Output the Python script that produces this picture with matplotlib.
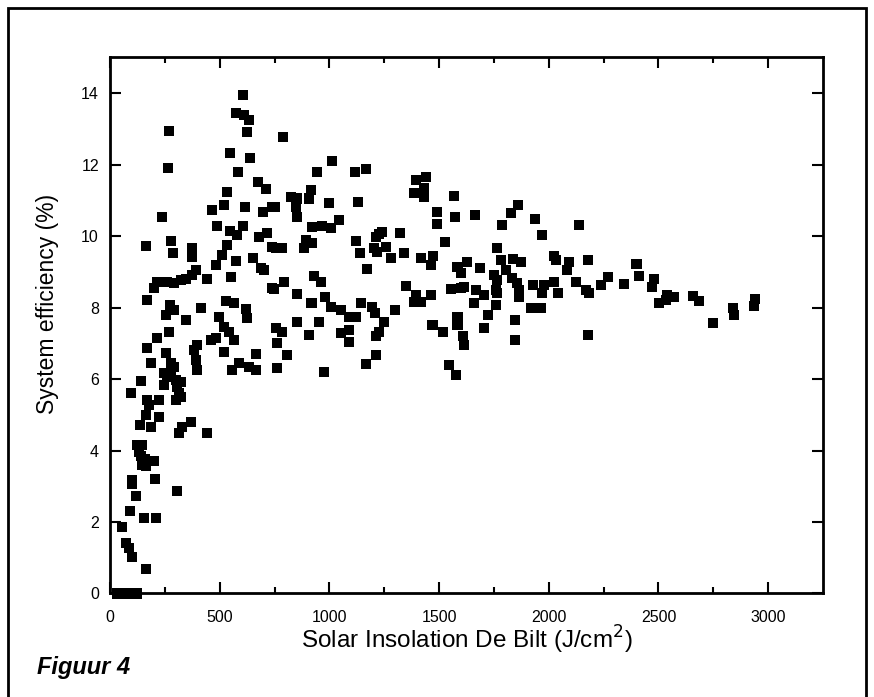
import matplotlib
matplotlib.use("Agg")
import matplotlib.pyplot as plt
from matplotlib.patches import Rectangle

# Solar insolation De Bilt (J/cm2) vs system efficiency (%)
insolation = [
    30, 50, 70, 90, 110, 125,
    56, 72, 87, 102, 163,
    91, 155, 208, 117, 102, 102, 304, 204,
    125, 147, 131, 140, 158, 147, 163, 200,
    444, 315, 330, 368,
    137, 186, 223, 163, 178, 170, 223,
    94, 143,
    246, 261, 277, 292, 300, 307, 315, 300, 322, 246, 322, 277,
    186, 170, 216, 254, 269,
    383, 398, 391, 398,
    459, 482, 520, 558, 588, 634, 664, 664, 565,
    608, 576, 611, 634, 626, 269, 266, 547, 637, 585, 676, 713, 532, 520,
    464, 616, 698, 740, 239, 486, 547, 578, 608, 680, 717, 740, 163, 277,
    289, 375, 375, 535, 512, 573, 482, 653, 687, 702, 391, 375, 345, 322,
    292, 261, 216, 201, 441, 550, 170, 274, 292, 254, 413, 345, 527, 565,
    497, 520, 543, 619, 626, 740,
    790, 1014, 945, 1117, 1169, 1394, 1440, 1432, 1386, 1432, 1569, 824,
    854, 847, 915, 907, 752, 999, 1132, 851, 1492, 1492, 1573, 922, 968,
    1006, 1044, 1227, 1242, 1211, 1321, 1528, 892, 920, 885, 756, 786,
    1123, 1139, 1204, 1219, 1260, 1280, 1341, 1417, 1473, 1465, 1584,
    1599, 1629, 1170, 930, 961, 793, 748, 851, 920, 980, 1006, 1052, 1090,
    1120, 1143, 1196, 1208, 1249, 1227, 1300, 1348, 1394, 1462, 1386,
    1554, 1599, 1584, 1584, 1470, 1516, 854, 953, 915, 756, 786, 907,
    1052, 1090,
    1211, 763, 808, 763, 1090, 976, 1214, 1169, 1607, 1546, 1576, 1417, 1614,
    1862, 1830, 1663, 1786, 1938, 1968, 2139, 1766, 1781, 1838, 1873, 1687,
    2025, 2032, 2093, 2081, 2181, 1751, 1766, 1804, 1834, 1857, 1614, 1667,
    1705, 1759, 1766, 1865, 1865, 1926, 1979, 2025, 1971, 2044, 2124, 2169,
    2184, 2238, 2268, 2341, 1660, 1721, 1759, 1918, 1964, 1705, 1847, 1847,
    2177,
    2400, 2412, 2481, 2470, 2503, 2541, 2572, 2534, 2658, 2686, 2747, 2838,
    2845, 2941, 2937,
]
efficiency = [
    0, 0, 0, 0, 0, 0,
    1.85, 1.40, 1.27, 1.03, 0.68,
    2.31, 2.10, 2.12, 2.74, 3.17, 3.05, 2.88, 3.19,
    4.15, 4.15, 3.95, 3.85, 3.75, 3.60, 3.58, 3.71,
    4.50, 4.48, 4.67, 4.81,
    4.71, 4.67, 4.93, 4.99, 5.27, 5.41, 5.41,
    5.62, 5.95,
    6.16, 6.06, 6.25, 6.34, 5.97, 5.78, 5.60, 5.41, 5.50, 5.83, 5.93, 6.44,
    6.44, 6.86, 7.14, 6.72, 7.32,
    6.81, 6.95, 6.53, 6.25,
    7.09, 7.14, 6.76, 6.25, 6.44, 6.33, 6.25, 6.70, 7.09,
    13.94, 13.45, 13.38, 13.24, 12.92, 12.95, 11.89, 12.33, 12.18, 11.79, 11.52, 11.31, 11.24, 10.88,
    10.73, 10.82, 10.66, 10.80, 10.52, 10.29, 10.14, 10.03, 10.29, 9.98, 10.08, 9.70, 9.73, 9.87,
    9.53, 9.66, 9.42, 9.75, 9.47, 9.30, 9.19, 9.38, 9.10, 9.05, 9.05, 8.91, 8.79, 8.77,
    8.69, 8.72, 8.72, 8.54, 8.81, 8.86, 8.21, 8.07, 7.93, 7.79, 7.98, 7.65, 8.19, 8.13,
    7.74, 7.46, 7.32, 7.95, 7.70, 8.54,
    12.78, 12.10, 11.78, 11.78, 11.87, 11.57, 11.66, 11.33, 11.19, 11.10, 11.12, 11.10,
    11.05, 10.82, 11.29, 11.05, 10.82, 10.93, 10.95, 10.52, 10.66, 10.34, 10.52, 10.26, 10.29,
    10.22, 10.45, 10.06, 10.12, 9.98, 10.08, 9.82, 9.89, 9.81, 9.66, 9.66, 9.66,
    9.86, 9.52, 9.66, 9.56, 9.70, 9.38, 9.53, 9.38, 9.45, 9.19, 9.14,
    8.96, 9.28, 9.07, 8.88, 8.72, 8.72, 8.51, 8.38, 8.13, 8.30, 8.02, 7.93, 7.74,
    7.74, 8.13, 8.02, 7.84, 7.60, 7.32, 7.93, 8.60, 8.35, 8.35, 8.16,
    8.51, 8.54, 7.74, 7.51, 7.51, 7.32, 7.60, 7.60, 8.13, 7.42, 7.32, 7.23,
    7.28, 7.37,
    7.20, 7.00, 6.67, 6.30, 7.04, 6.20, 6.67, 6.41, 7.20, 6.39, 6.11, 8.16, 6.95,
    10.87, 10.65, 10.59, 10.31, 10.47, 10.03, 10.31, 9.66, 9.33, 9.35, 9.28, 9.10,
    9.44, 9.33, 9.28, 9.05, 9.33, 8.91, 8.77, 9.05, 8.82, 8.68, 8.58, 8.49,
    8.35, 8.49, 8.40, 8.49, 8.30, 8.63, 8.63, 8.72, 8.40, 8.40, 8.72, 8.49,
    8.40, 8.63, 8.86, 8.65, 8.12, 7.79, 8.07, 7.98, 7.98, 7.42, 7.65, 7.09,
    7.23,
    9.22, 8.88, 8.79, 8.58, 8.12, 8.35, 8.29, 8.21, 8.32, 8.19, 7.56, 8.00,
    7.79, 8.23, 8.04,
]

x_ticks = [0, 500, 1000, 1500, 2000, 2500, 3000]
y_ticks = [0, 2, 4, 6, 8, 10, 12, 14]

plt.rcParams["font.family"] = ["Liberation Sans", "DejaVu Sans"]

fig = plt.figure(figsize=(8.74, 6.97), dpi=100)
ax = fig.add_axes([0.1259, 0.1485, 0.8157, 0.7693])

ax.scatter(insolation, efficiency, marker="s", s=52, color="black",
           edgecolors="none", clip_on=False, zorder=3)

ax.set_xlim(0, 3250)
ax.set_ylim(0, 15)
ax.set_xticks(x_ticks)
ax.set_xticks(range(250, 3250, 500), minor=True)
ax.set_yticks(y_ticks)
ax.tick_params(which="both", direction="in", top=True, right=True,
               labelsize=11.5, width=1.5)
ax.tick_params(which="major", length=8)
ax.tick_params(which="minor", length=4)
ax.tick_params(axis="x", which="major", pad=12)
ax.tick_params(axis="y", which="major", pad=8)
for sp in ax.spines.values():
    sp.set_linewidth(2)

ax.set_xlabel("Solar Insolation De Bilt (J/cm$^2$)", fontsize=17.5, labelpad=-1)
ax.set_ylabel("System efficiency (%)", fontsize=16.5)
ax.yaxis.set_label_coords(-0.072, 0.54)

fig.text(0.042, 0.033, "Figuur 4", fontsize=17, fontweight="bold",
         fontstyle="italic")

# outer frame of the figure panel
fig.patches.append(Rectangle((0.0092, -0.1), 0.9816, 1.0885, transform=fig.transFigure,
                             fill=False, edgecolor="black", linewidth=2))

fig.savefig("out.png", dpi=100)
